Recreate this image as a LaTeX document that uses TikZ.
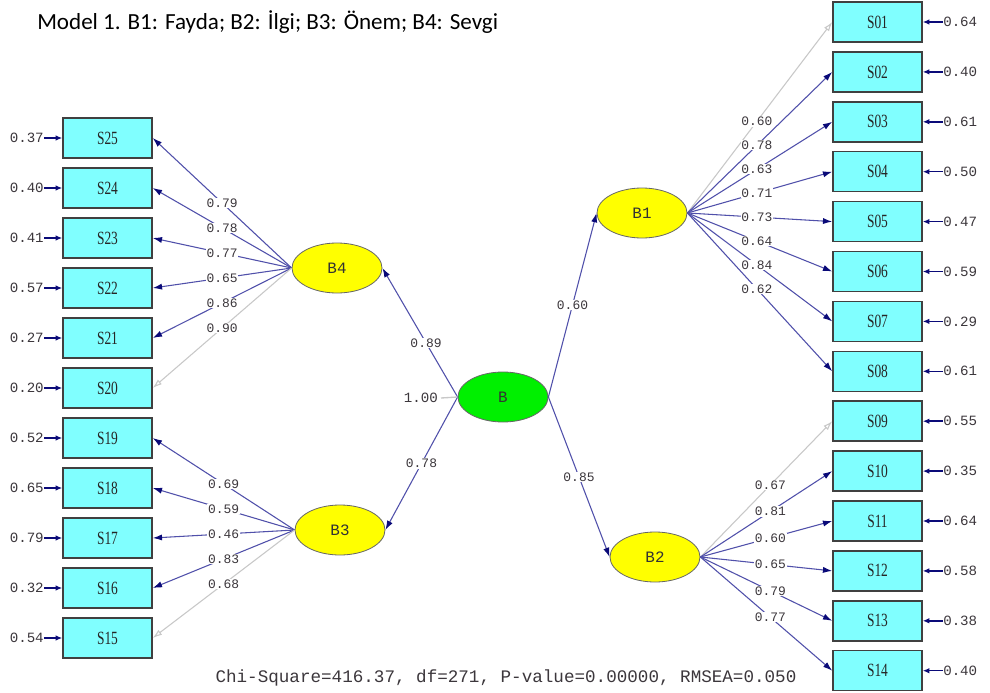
\documentclass[tikz,border=0pt]{standalone}
\usepackage{fontspec}
\setmainfont{Liberation Serif}
\newfontfamily\titlefont{Carlito}
\newfontfamily\numfont{Liberation Mono}
\newfontfamily\boxfont[FakeStretch=0.72]{Liberation Serif}
\usetikzlibrary{arrows.meta,shapes.geometric}
\definecolor{boxcyan}{RGB}{128,255,255}
\definecolor{boxedge}{RGB}{64,64,64}
\definecolor{latyellow}{RGB}{255,255,0}
\definecolor{latgreen}{RGB}{0,240,0}
\definecolor{pathblue}{RGB}{80,80,170}
\definecolor{headblue}{RGB}{10,10,120}
\definecolor{fixgray}{RGB}{200,200,200}
\definecolor{numcol}{RGB}{60,55,60}
\tikzset{
  obsbox/.style={draw=boxedge, line width=1.1pt, fill=boxcyan, minimum width=66.75pt, minimum height=30pt, inner sep=0pt, font=\boxfont\fontsize{14}{16}\selectfont, text=black!85},
  latent/.style={ellipse, draw=black!60, line width=0.6pt, fill=latyellow, minimum width=67.5pt, minimum height=37.5pt, inner sep=0pt, font=\numfont\fontsize{11.9}{14}\selectfont, text=black!80},
  loadarrow/.style={draw=pathblue, line width=0.8pt, -{Latex[length=7pt,width=4.6pt,color=headblue]}},
  fixarrow/.style={draw=fixgray, line width=0.8pt, -{Latex[length=7pt,width=4.6pt,open,color=fixgray]}},
  errarrow/.style={draw=headblue, line width=1.1pt, -{Latex[length=5pt,width=4.2pt]}},
  lbl/.style={fill=white, inner sep=0.6pt, font=\numfont\fontsize{9.7}{11}\selectfont, text=numcol},
  errlbl/.style={inner sep=0pt, font=\numfont\fontsize{10.6}{12}\selectfont, text=numcol}
}
\begin{document}
\begin{tikzpicture}[x=0.75pt,y=-0.75pt]
\useasboundingbox[fill=white] (0,0) rectangle (990,693);

% title
\node[anchor=west, inner sep=0pt, font=\titlefont\fontsize{17.3}{20}\selectfont] (title) at (37,22) {Model 1. B1: Fayda; B2: İlgi; B3: Önem; B4: Sevgi};

% latent variables
\node[latent] (b4) at (337,268) {B4};
\node[latent] (b3) at (340,530) {B3};
\node[latent, fill=latgreen] (b) at (503,397) {B};
\node[latent] (b1) at (642,213) {B1};
\node[latent] (b2) at (655,557) {B2};

% right indicators
\foreach \n/\e [count=\i from 0] in {01/0.64,02/0.40,03/0.61,04/0.50,05/0.47,06/0.59,07/0.29,08/0.61,09/0.55,10/0.35,11/0.64,12/0.58,13/0.38,14/0.40}{
  \node[obsbox] (s\n) at (877.5,{22+\i*49.9}) {S\n};
  \node[errlbl, anchor=west] (e\n) at (943,{22+\i*49.9}) {\e};
  \draw[errarrow] (e\n.west) -- (s\n.east);
}
% left indicators
\foreach \n/\e [count=\i from 0] in {25/0.37,24/0.40,23/0.41,22/0.57,21/0.27,20/0.20,19/0.52,18/0.65,17/0.79,16/0.32,15/0.54}{
  \node[obsbox] (s\n) at (107.5,{138+\i*50}) {S\n};
  \node[errlbl, anchor=east] (e\n) at (44,{138+\i*50}) {\e};
  \draw[errarrow] (e\n.east) -- (s\n.west);
}

% loadings B1
\draw[fixarrow] (b1.east) -- (s01.west);
\foreach \n in {02,03,04,05,06,07,08}{ \draw[loadarrow] (b1.east) -- (s\n.west); }
% loadings B2
\draw[fixarrow] (b2.east) -- (s09.west);
\foreach \n in {10,11,12,13,14}{ \draw[loadarrow] (b2.east) -- (s\n.west); }
% loadings B4
\foreach \n in {25,24,23,22,21}{ \draw[loadarrow] (b4.west) -- (s\n.east); }
\draw[fixarrow] (b4.west) -- (s20.east);
% loadings B3
\foreach \n in {19,18,17,16}{ \draw[loadarrow] (b3.west) -- (s\n.east); }
\draw[fixarrow] (b3.west) -- (s15.east);

% structural paths
\draw[loadarrow] (b.west) -- (b4.east);
\draw[loadarrow] (b.west) -- (b3.east);
\draw[loadarrow] (b.east) -- (b1.west);
\draw[loadarrow] (b.east) -- (b2.west);

% variance of B
\node[errlbl, anchor=east] (v) at (438,398) {1.00};
\draw[fixgray, line width=1pt] (v.east) ++(3,0) coordinate (vs) (vs) -- (b.west);

% labels
\foreach \n/\l in {01/0.60,02/0.78,03/0.63,04/0.71,05/0.73,06/0.64,07/0.84,08/0.62}{
  \path (b1.east) -- (s\n.west) node[lbl, pos=0.48] {\l};
}
\foreach \n/\l in {09/0.67,10/0.81,11/0.60,12/0.65,13/0.79,14/0.77}{
  \path (b2.east) -- (s\n.west) node[lbl, pos=0.53] {\l};
}
\foreach \n/\l in {25/0.79,24/0.78,23/0.77,22/0.65,21/0.86,20/0.90}{
  \path (b4.west) -- (s\n.east) node[lbl, pos=0.5] {\l};
}
\foreach \n/\l in {19/0.69,18/0.59,17/0.46,16/0.83,15/0.68}{
  \path (b3.west) -- (s\n.east) node[lbl, pos=0.5] {\l};
}
\path (b.west) -- (b4.east) node[lbl, pos=0.42] {0.89};
\path (b.west) -- (b3.east) node[lbl, pos=0.5] {0.78};
\path (b.east) -- (b1.west) node[lbl, pos=0.5] {0.60};
\path (b.east) -- (b2.west) node[lbl, pos=0.5] {0.85};

% fit statistics
\node[inner sep=0pt, font=\numfont\fontsize{13.2}{15}\selectfont, text=numcol] (fit) at (506,678) {Chi-Square=416.37, df=271, P-value=0.00000, RMSEA=0.050};
\end{tikzpicture}
\end{document}
